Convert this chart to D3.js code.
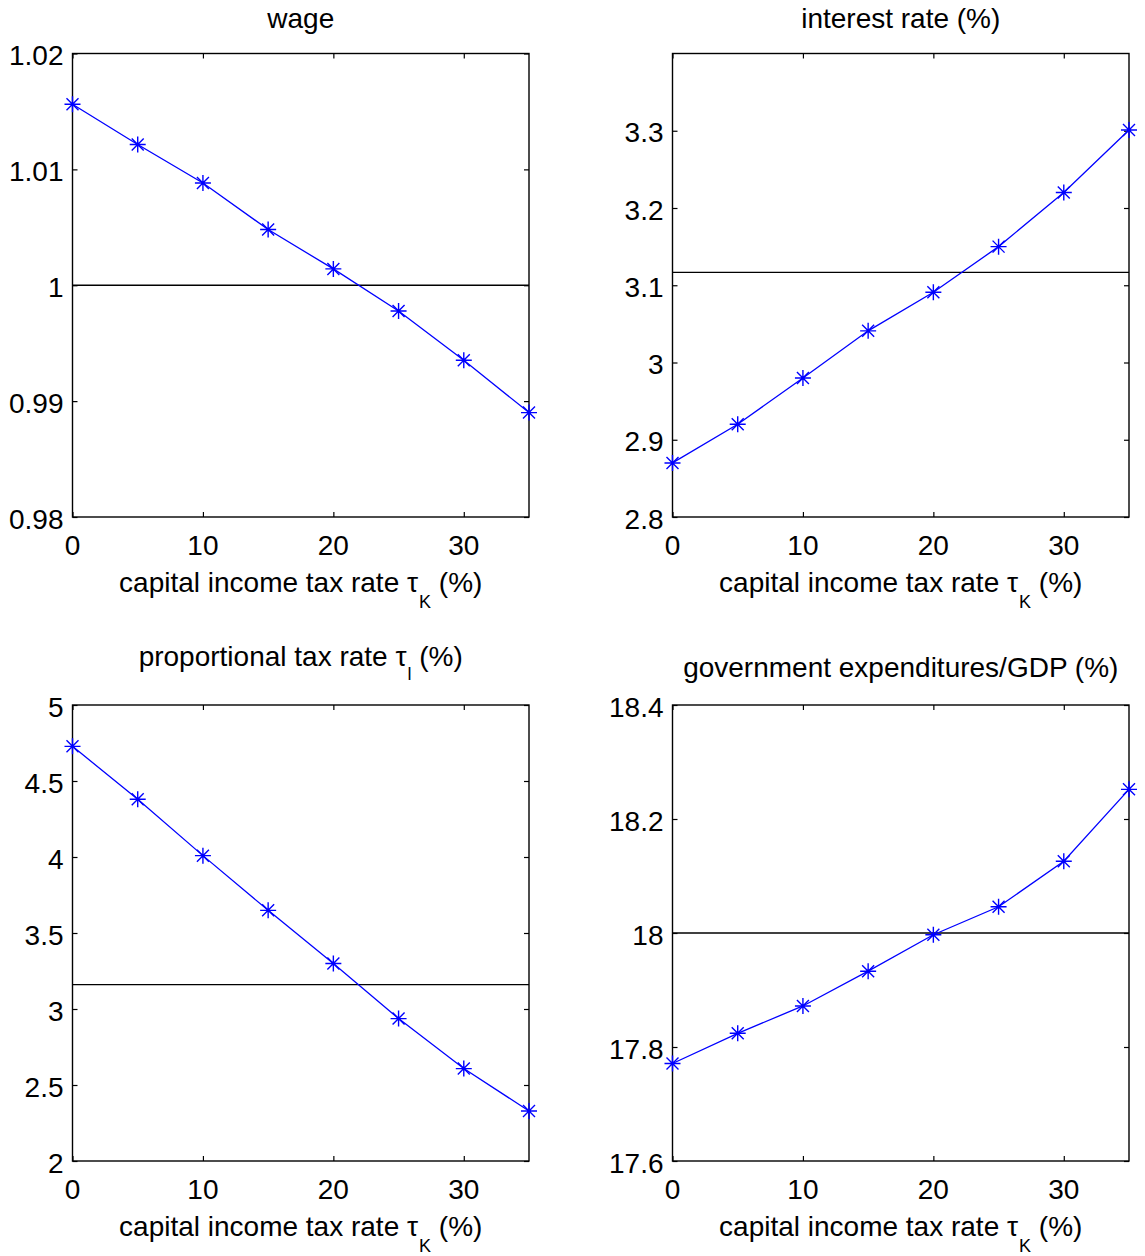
<!DOCTYPE html>
<html>
<head>
<meta charset="utf-8">
<script src="https://cdn.jsdelivr.net/npm/d3@7"></script>
<style>
  html, body { margin: 0; padding: 0; background: #fff; }
  svg { display: block; }
  text { font-family: "Liberation Sans", Arial, Helvetica, sans-serif; fill: #000; }
</style>
</head>
<body>
<svg id="fig" width="1145" height="1256"></svg>
<script>
// Capital income tax rate (%) on the horizontal axis of every panel
const taxRates = [0, 5, 10, 15, 20, 25, 30, 35];
const xTicks = [0, 10, 20, 30];

// Series values
const wage = [1.01562, 1.01215, 1.00883, 1.00481, 1.00141, 0.99778, 0.99353, 0.98901];
const interestRate = [2.870, 2.920, 2.980, 3.041, 3.091, 3.150, 3.220, 3.301];
const proportionalTax = [4.728, 4.380, 4.009, 3.649, 3.299, 2.937, 2.608, 2.329];
const govExpGDP = [17.771, 17.824, 17.872, 17.933, 17.997, 18.046, 18.126, 18.252];

// Benchmark levels drawn as horizontal reference lines
const wageRef = 1.0;
const interestRef = 3.1167;
const proportionalRef = 3.1605;
const govExpRef = 18.0;

// Y tick labels per panel
const wageTicks = ["0.98", "0.99", "1", "1.01", "1.02"];
const interestTicks = ["2.8", "2.9", "3", "3.1", "3.2", "3.3"];
const proportionalTicks = ["2", "2.5", "3", "3.5", "4", "4.5", "5"];
const govExpTicks = ["17.6", "17.8", "18", "18.2", "18.4"];

const panels = [
  { title: [["wage"]], values: wage, ref: wageRef, yDomain: [0.98, 1.02], yTicks: wageTicks,
    left: 72.5, top: 53.5, width: 456.5, height: 463.5, titleGap: 26 },
  { title: [["interest rate (%)"]], values: interestRate, ref: interestRef, yDomain: [2.8, 3.4], yTicks: interestTicks,
    left: 672.5, top: 53.5, width: 456.5, height: 463.5, titleGap: 26 },
  { title: [["proportional tax rate τ"], ["l", "sub"], [" (%)"]], values: proportionalTax, ref: proportionalRef, yDomain: [2, 5], yTicks: proportionalTicks,
    left: 72.5, top: 705, width: 456.5, height: 456, titleGap: 39 },
  { title: [["government expenditures/GDP (%)"]], values: govExpGDP, ref: govExpRef, yDomain: [17.6, 18.4], yTicks: govExpTicks,
    left: 672.5, top: 705, width: 456.5, height: 456, titleGap: 28 }
];

const xLabel = [["capital income tax rate τ"], ["K", "sub"], [" (%)"]];

const svg = d3.select("#fig");
const fontSize = 28;
const subSize = 18;
const blue = "#0000ff";

// Writes a label made of plain and subscript runs as tspans
function richText(sel, parts, subShift) {
  let shifted = false;
  parts.forEach(([str, kind]) => {
    const t = sel.append("tspan").text(str);
    if (kind === "sub") {
      t.attr("font-size", subSize).attr("dy", subShift).attr("dx", 1);
      shifted = true;
    } else {
      t.attr("font-size", fontSize);
      if (shifted) { t.attr("dy", -subShift); shifted = false; }
    }
  });
}

// Asterisk marker: plus and cross overlaid
function starPath(cx, cy) {
  const r = 8, d = 6;
  return `M${cx - r},${cy}L${cx + r},${cy}M${cx},${cy - r}L${cx},${cy + r}` +
         `M${cx - d},${cy - d}L${cx + d},${cy + d}M${cx - d},${cy + d}L${cx + d},${cy - d}`;
}

panels.forEach(p => {
  const x = d3.scaleLinear().domain([0, 35]).range([p.left, p.left + p.width]);
  const y = d3.scaleLinear().domain(p.yDomain).range([p.top + p.height, p.top]);
  const g = svg.append("g");
  const tickVals = p.yTicks.map(Number);

  // Inward ticks on all four sides (mirrored axes)
  const tickLen = 5;
  g.append("g").attr("transform", `translate(0,${p.top + p.height})`)
    .call(d3.axisBottom(x).tickValues(xTicks).tickSizeInner(-tickLen).tickSizeOuter(0).tickFormat(""));
  g.append("g").attr("transform", `translate(0,${p.top})`)
    .call(d3.axisTop(x).tickValues(xTicks).tickSizeInner(-tickLen).tickSizeOuter(0).tickFormat(""));
  g.append("g").attr("transform", `translate(${p.left},0)`)
    .call(d3.axisLeft(y).tickValues(tickVals).tickSizeInner(-tickLen).tickSizeOuter(0).tickFormat(""));
  g.append("g").attr("transform", `translate(${p.left + p.width},0)`)
    .call(d3.axisRight(y).tickValues(tickVals).tickSizeInner(-tickLen).tickSizeOuter(0).tickFormat(""));
  g.selectAll(".domain").remove();
  g.selectAll(".tick line").attr("stroke", "#000").attr("stroke-width", 1.2);

  // Box frame
  g.append("rect")
    .attr("x", x(0)).attr("y", y(p.yDomain[1]))
    .attr("width", x(35) - x(0)).attr("height", y(p.yDomain[0]) - y(p.yDomain[1]))
    .attr("fill", "none").attr("stroke", "#000").attr("stroke-width", 1.4);

  // Tick labels
  g.selectAll(".ylab").data(p.yTicks).join("text")
    .attr("x", p.left - 9).attr("y", d => y(+d) + 11.5)
    .attr("text-anchor", "end").attr("font-size", fontSize).text(d => d);
  g.selectAll(".xlab").data(xTicks).join("text")
    .attr("x", d => x(d)).attr("y", p.top + p.height + 38)
    .attr("text-anchor", "middle").attr("font-size", fontSize).text(d => d);

  // Reference level
  g.append("line")
    .attr("x1", x(0)).attr("x2", x(35))
    .attr("y1", y(p.ref)).attr("y2", y(p.ref))
    .attr("stroke", "#000").attr("stroke-width", 1.3);

  // Series line and markers
  const pts = taxRates.map((t, i) => [x(t), y(p.values[i])]);
  g.append("path").attr("d", d3.line()(pts))
    .attr("fill", "none").attr("stroke", blue).attr("stroke-width", 1.3);
  g.selectAll(".star").data(pts).join("path")
    .attr("d", d => starPath(d[0], d[1]))
    .attr("fill", "none").attr("stroke", blue).attr("stroke-width", 1.4);

  // Title and axis label
  const cx = p.left + p.width / 2;
  richText(g.append("text").attr("x", cx).attr("y", p.top - p.titleGap).attr("text-anchor", "middle"), p.title, 14);
  richText(g.append("text").attr("x", cx).attr("y", p.top + p.height + 75).attr("text-anchor", "middle"), xLabel, 16);
});
</script>
</body>
</html>
